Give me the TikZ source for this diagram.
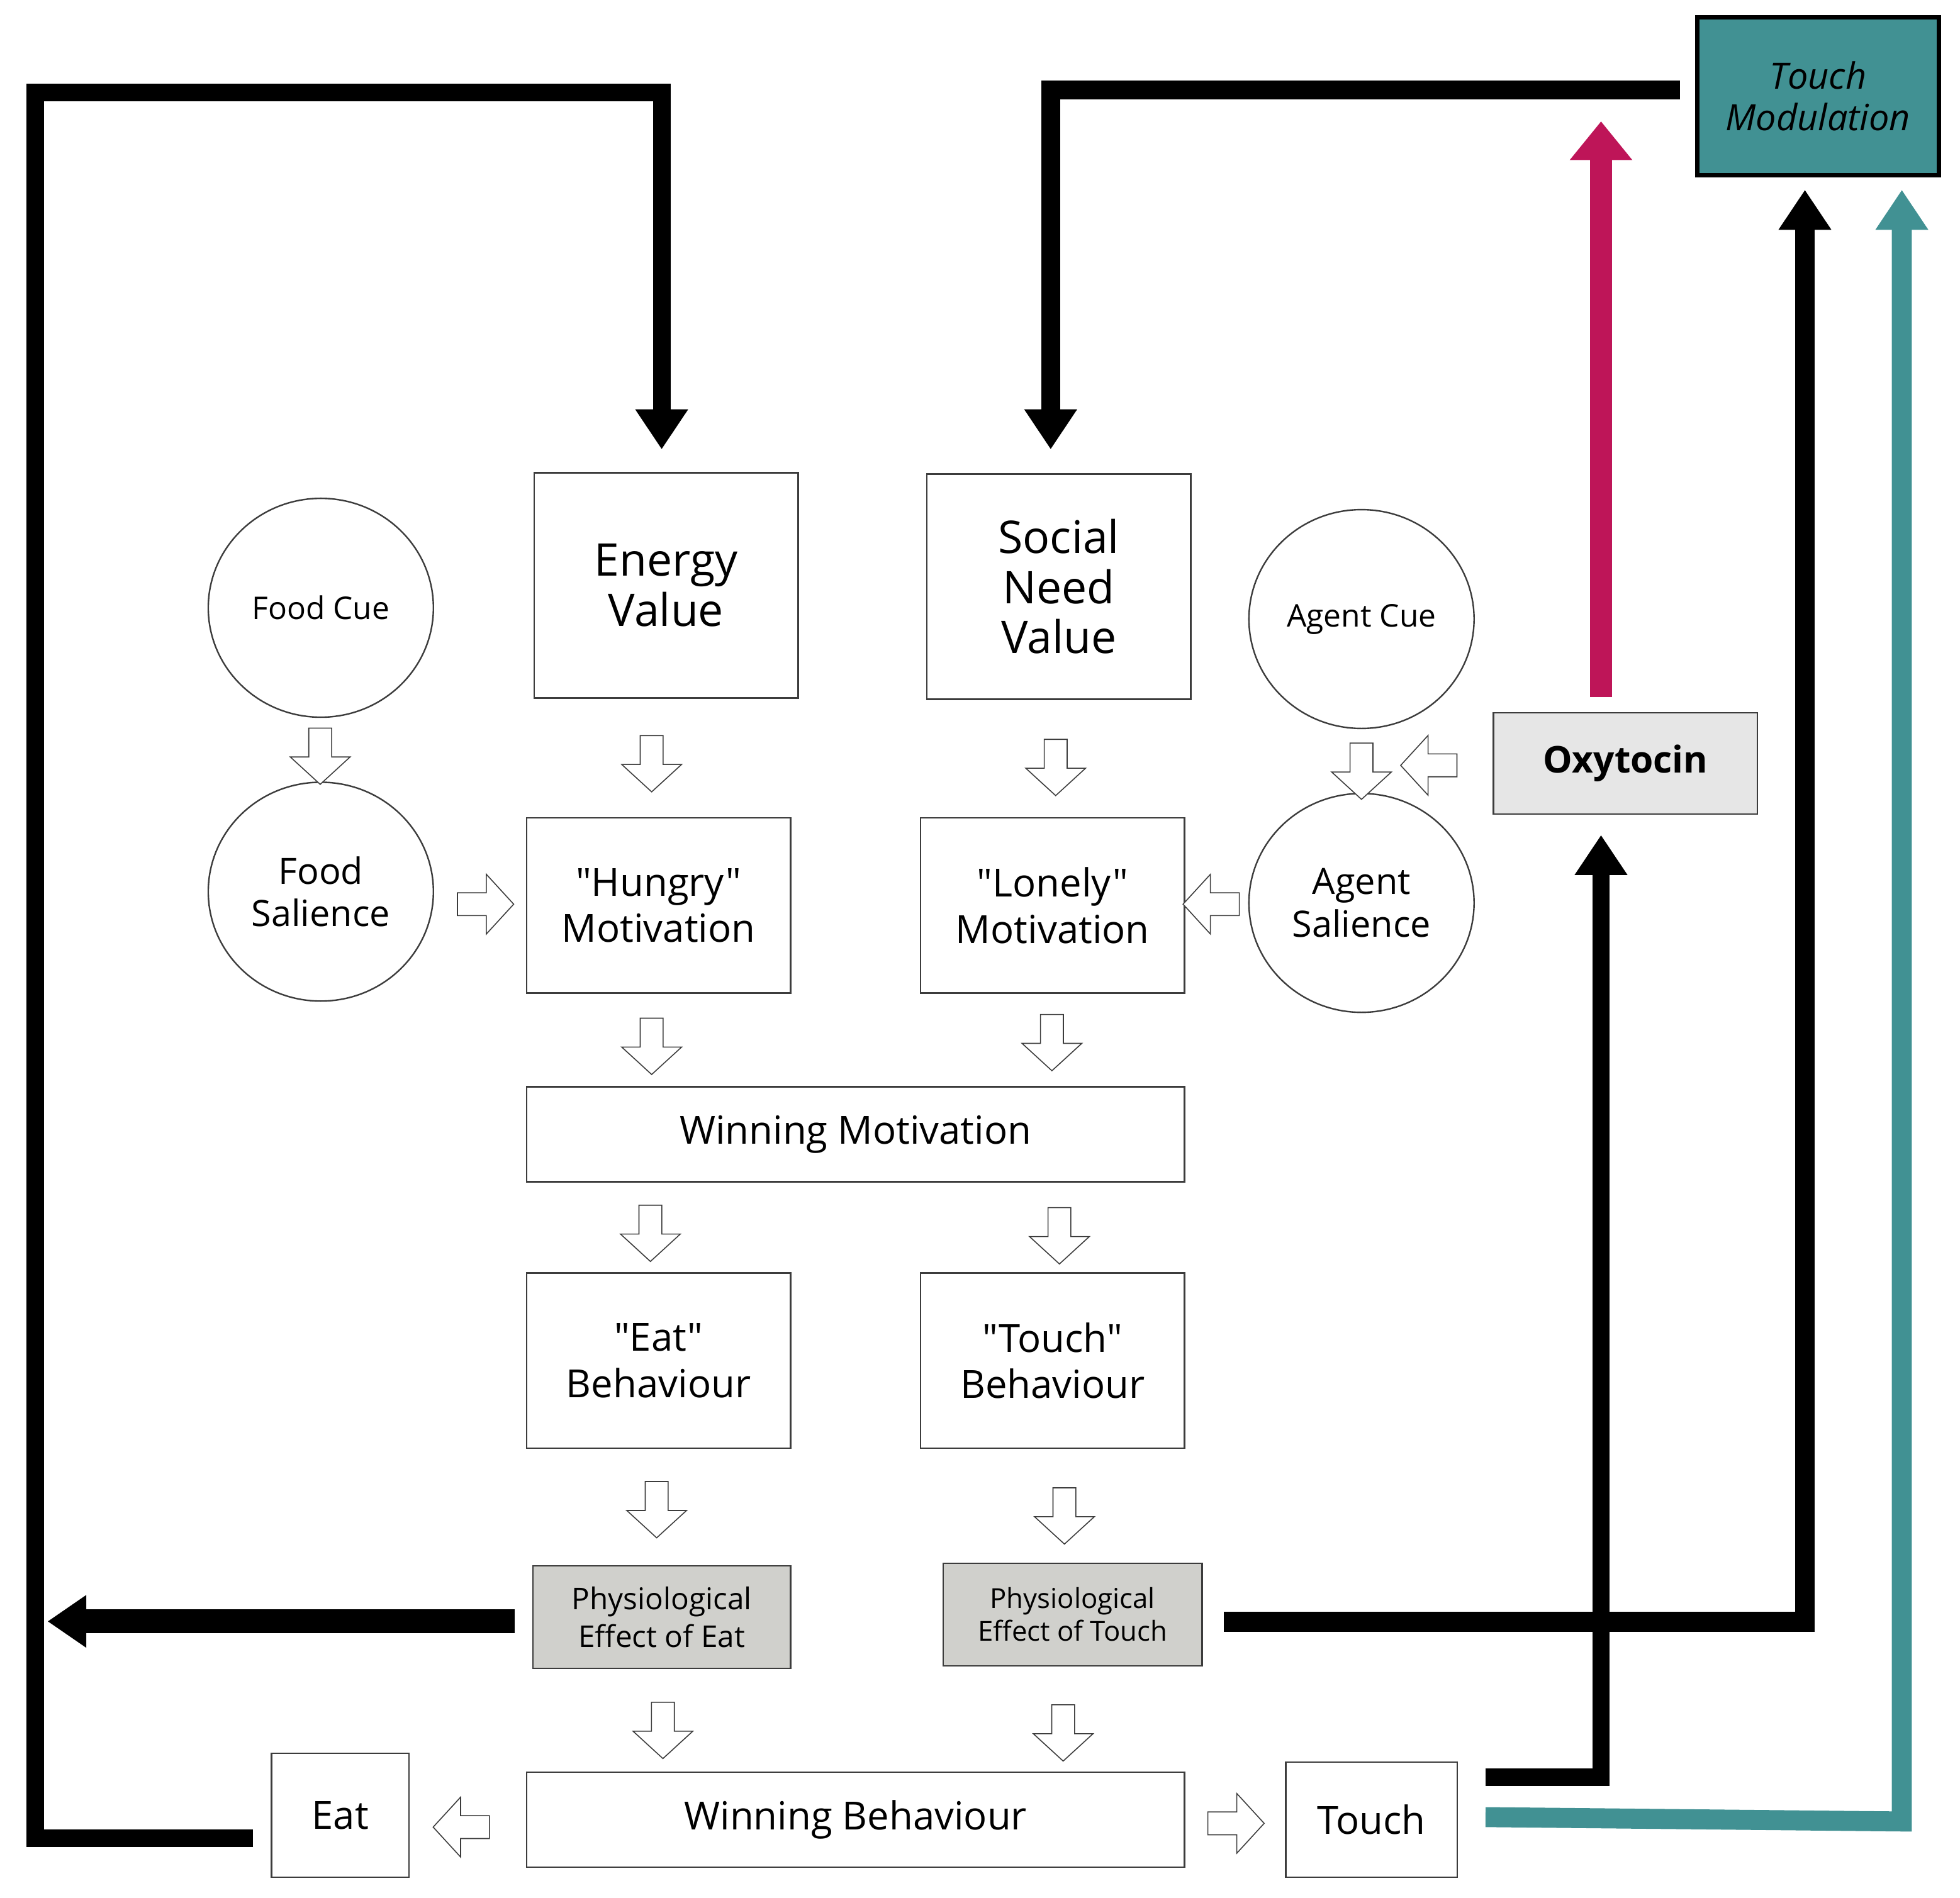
\documentclass[tikz,border=0pt]{standalone}
\usepackage{fontspec}
\setmainfont{Open Sans}[Ligatures=TeXOff]
\usetikzlibrary{arrows.meta,shapes.geometric,shapes.arrows,calc}
\definecolor{tealc}{RGB}{65,145,147}
\definecolor{magc}{RGB}{190,21,88}
\definecolor{physgray}{RGB}{208,208,204}
\definecolor{oxygray}{RGB}{230,230,230}
\definecolor{edgec}{RGB}{60,60,60}
\newcommand{\FtBig}{\fontsize{36}{40}\selectfont}
\newcommand{\FtMed}{\fontsize{31}{37}\selectfont}
\newcommand{\FtSal}{\fontsize{29}{34}\selectfont}
\newcommand{\FtCue}{\fontsize{25}{30}\selectfont}
\newcommand{\FtPhE}{\fontsize{24}{30}\selectfont}
\newcommand{\FtPhT}{\fontsize{22}{26}\selectfont}
\newcommand{\FtOxy}{\fontsize{29.5}{36}\selectfont}
\newcommand{\FtMod}{\fontsize{29}{33}\selectfont}
\begin{document}
\begin{tikzpicture}[x=1pt,y=-1pt,
  box/.style={draw=edgec,line width=1.3pt,fill=white,align=center,inner sep=0pt},
  circ/.style={ellipse,draw=edgec,line width=1.2pt,fill=white,align=center,inner sep=0pt,minimum width=180pt,minimum height=175pt},
  hollow/.style={single arrow,draw=edgec,line width=0.8pt,fill=white,inner sep=8.75pt,single arrow head extend=14.75pt,minimum height=45pt,single arrow tip angle=95},
  hdown/.style={hollow,shape border rotate=270},
  hleft/.style={hollow,shape border rotate=180},
  hright/.style={hollow,shape border rotate=0},
  bigline/.style={line join=miter,line cap=butt},
  bighead/.style={-{Triangle[width=40pt,length=32pt]}}
]
\useasboundingbox (0,0) rectangle (1567,1517.7);
\fill[white] (0,0) rectangle (1567,1517.7);

% nodes
\node[box,minimum width=211pt,minimum height=180pt,font=\FtBig] (energy) at (532.5,468) {Energy\\Value};
\node[box,minimum width=211pt,minimum height=180pt,font=\FtBig] (social) at (846.5,469) {Social\\Need\\Value};
\node[circ,font=\FtCue] (foodcue) at (256.5,486) {Food Cue};
\node[circ,font=\FtCue] (agentcue) at (1088.5,495) {Agent Cue};
\node[circ,font=\FtSal] (foodsal) at (256.5,713) {Food\\Salience};
\node[circ,font=\FtSal] (agentsal) at (1088.5,722) {Agent\\Salience};
\node[box,minimum width=211pt,minimum height=140pt,font=\FtMed] (hungry) at (526.5,724) {"Hungry"\\Motivation};
\node[box,minimum width=211pt,minimum height=140pt,font=\FtMed] (lonely) at (841.5,724) {"Lonely"\\Motivation};
\node[box,fill=oxygray,minimum width=211pt,minimum height=81pt,font=\bfseries\FtOxy] (oxy) at (1299.5,610.5) {Oxytocin};
\node[box,fill=tealc,draw=black,line width=3.5pt,minimum width=193pt,minimum height=126pt,font=\itshape\FtMod] (tmod) at (1453.5,77) {Touch\\Modulation};
\node[box,minimum width=526pt,minimum height=76pt,font=\FtMed] (winmot) at (684,907) {Winning Motivation};
\node[box,minimum width=211pt,minimum height=140pt,font=\FtMed] (eatbeh) at (526.5,1088) {"Eat"\\Behaviour};
\node[box,minimum width=211pt,minimum height=140pt,font=\FtMed] (touchbeh) at (841.5,1088) {"Touch"\\Behaviour};
\node[box,fill=physgray,minimum width=206pt,minimum height=82pt,font=\FtPhE] (peat) at (529,1293) {Physiological\\Effect of Eat};
\node[box,fill=physgray,minimum width=207pt,minimum height=82pt,font=\FtPhT] (ptouch) at (857.5,1291) {Physiological\\Effect of Touch};
\node[box,minimum width=526pt,minimum height=76pt,font=\FtMed] (winbeh) at (684,1455) {Winning Behaviour};
\node[box,minimum width=110pt,minimum height=99pt,font=\FtMed] (eat) at (272,1451.5) {Eat};
\node[box,minimum width=137pt,minimum height=92pt,font=\FtMed] (touch) at (1096.5,1455) {Touch};

% hollow block arrows
\node[hdown] (a1) at (256,600.5) {};
\node[hdown] (a2) at (521,606.5) {};
\node[hdown] (a3) at (844,609.5) {};
\node[hdown] (a4) at (1088.5,612.5) {};
\node[hleft] (a5) at (1146.5,612) {};
\node[hright] (a6) at (384,723) {};
\node[hleft] (a7) at (972.5,723) {};
\node[hdown] (a8) at (521,832.5) {};
\node[hdown] (a9) at (841,829.5) {};
\node[hdown] (a10) at (520,982) {};
\node[hdown] (a11) at (847,984) {};
\node[hdown] (a12) at (525,1203) {};
\node[hdown] (a13) at (851,1208) {};
\node[hdown] (a14) at (530,1379.5) {};
\node[hdown] (a15) at (850,1381.5) {};
\node[hleft] (a16) at (373,1461) {};
\node[hright] (a17) at (984,1458) {};

% feedback connectors
\coordinate (loopcorner) at (28,74);
\draw[bigline,bighead,line width=14pt] ($(eat.west)+(-14,18.5)$) -| (loopcorner) -| ($(energy.north)+(-3.5,-18)$);
\draw[bigline,bighead,line width=15pt] ($(tmod.west)+(-12,-5)$) -| ($(social.north)+(-6.5,-19)$);
\draw[bigline,bighead,line width=16pt] ($(ptouch.east)+(17,6)$) -| ($(tmod.south)+(-10.5,10)$);
\draw[bigline,bighead,line width=14pt] ($(touch.east)+(22,-34)$) -| ($(oxy.south)+(-19.5,16)$);
\coordinate (tealcorner) at (1520.5,1456.5);
\draw[bigline,bighead,tealc,line width=16pt] ($(touch.east)+(22,-2)$) -- (tealcorner) -- ($(tmod.south)+(67,10)$);
\coordinate (magtip) at (1280,97);
\draw[bigline,magc,line width=18pt,-{Triangle[width=48pt,length=31pt]}] ($(oxy.north)+(-19.5,-12)$) -- (magtip);
\coordinate (eattip) at (38,1296.5);
\draw[bigline,line width=19pt,-{Triangle[width=40pt,length=31pt]}] ($(peat.west)+(-14,3.5)$) -- (eattip);
\end{tikzpicture}
\end{document}
